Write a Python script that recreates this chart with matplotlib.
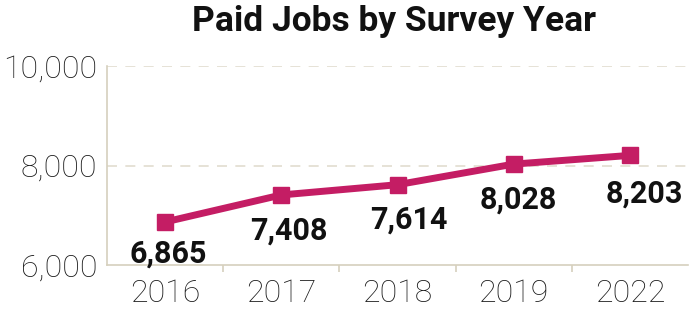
import matplotlib
matplotlib.use("Agg")
import matplotlib.pyplot as plt

years = ["2016", "2017", "2018", "2019", "2022"]
jobs = [6865, 7408, 7614, 8028, 8203]
label_texts = ["6,865", "7,408", "7,614", "8,028", "8,203"]
yticks = [6000, 8000, 10000]
ytick_labels = ["6,000", "8,000", "10,000"]

plt.rcParams['font.family'] = ['Roboto', 'DejaVu Sans']

fig = plt.figure(figsize=(6.97, 3.2), dpi=100)
ax = fig.add_axes([107/697, 1-265/320, (688-107)/697, (265-66)/320])

x = list(range(len(years)))
line_color = "#c41d64"
ax.plot(x, jobs, color=line_color, linewidth=5, marker="s", markersize=11,
        solid_joinstyle="miter", zorder=3)

offsets = [(2.5, -12), (5.4, -15), (8.3, -14.4), (3.6, -14.4), (10.4, -17)]
for xi, v, t, off in zip(x, jobs, label_texts, offsets):
    ax.annotate(t, (xi, v), xytext=off, textcoords="offset points",
                ha="center", va="top", fontsize=22, fontweight="bold",
                color="#111111", zorder=4, annotation_clip=False)

ax.set_xlim(-0.5, len(years) - 0.5)
ax.set_ylim(6000, 10000)
ax.set_yticks(yticks)
ax.set_yticklabels(ytick_labels)
ax.set_xticks(x)
ax.set_xticklabels(years)
ax.set_xticks([i + 0.5 for i in range(len(years) - 1)], minor=True)

grid_color = "#e2ddd0"
for yv in yticks[1:]:
    ax.axhline(yv, color=grid_color, linewidth=1.2, linestyle=(0, (6, 5)), zorder=1)

for s in ["top", "right"]:
    ax.spines[s].set_visible(False)
for s in ["left", "bottom"]:
    ax.spines[s].set_color("#d6d0bd")
    ax.spines[s].set_linewidth(1.2)

ax.tick_params(axis="x", which="major", length=0, pad=10, labelsize=23, labelcolor="#1a1a1a")
ax.tick_params(axis="x", which="minor", length=5, color="#d6d0bd", width=1.2)
ax.tick_params(axis="y", length=0, pad=7, labelsize=23, labelcolor="#1a1a1a")
for lab in ax.get_xticklabels() + ax.get_yticklabels():
    lab.set_fontweight("light")

fig.text(394/697, 1-22/320, "Paid Jobs by Survey Year", ha="center", va="center",
         fontsize=25.5, fontweight="bold", color="#111111")

fig.savefig("out.png", dpi=100)
